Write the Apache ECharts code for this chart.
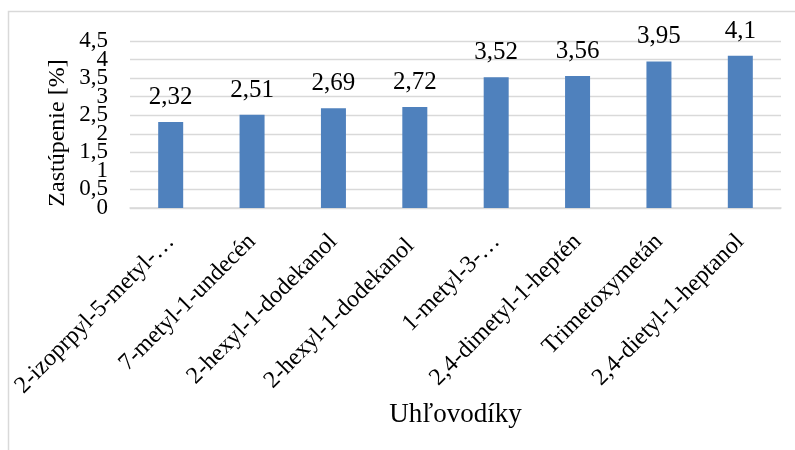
<!DOCTYPE html>
<html>
<head>
<meta charset="utf-8">
<script src="https://cdn.jsdelivr.net/npm/echarts@6/dist/echarts.min.js"></script>
<style>
  html, body { margin: 0; padding: 0; background: #fff; }
  #chart { width: 795px; height: 450px; }
</style>
</head>
<body>
<div id="chart"></div>
<script>
const categories = [
  '2-izoprpyl-5-metyl-…',
  '7-metyl-1-undecén',
  '2-hexyl-1-dodekanol',
  '2-hexyl-1-dodekanol ',
  '1-metyl-3-…',
  '2,4-dimetyl-1-heptén',
  'Trimetoxymetán',
  '2,4-dietyl-1-heptanol'
];
const values = [2.32, 2.51, 2.69, 2.72, 3.52, 3.56, 3.95, 4.1];
const yMin = 0, yMax = 4.5, yStep = 0.5;
const yTitle = 'Zastúpenie [%]';
const xTitle = 'Uhľovodíky';

const font = '"Liberation Serif", "Times New Roman", serif';
const comma = v => String(v).replace('.', ',');

// tick labels are packed tighter than their font size, so echarts drops the
// neighbours of min/max; a second, label-only axis puts those two back
const yLabel = {
  margin: 22,
  fontFamily: font,
  fontSize: 23,
  color: '#000'
};
const nearEnds = v => Math.abs(v - (yMin + yStep)) < 1e-6 || Math.abs(v - (yMax - yStep)) < 1e-6;

let myChart = echarts.init(document.getElementById('chart'));
let option = {
  animation: false,
  textStyle: { fontFamily: font },
  grid: { left: 130, right: 14, top: 41, bottom: 242 },
  graphic: [{
    type: 'rect',
    shape: { x: 8.5, y: 11.5, width: 800, height: 460 },
    style: { fill: 'none', stroke: '#d9d9d9', lineWidth: 1.5 },
    silent: true,
    z: -1
  }, {
    type: 'text',
    x: 58,
    y: 133,
    rotation: Math.PI / 2,
    style: {
      text: yTitle,
      fontSize: 24,
      fontFamily: font,
      fill: '#000',
      align: 'center',
      verticalAlign: 'middle'
    },
    silent: true
  }],
  xAxis: {
    type: 'category',
    data: categories,
    name: xTitle,
    nameLocation: 'middle',
    nameGap: 178,
    nameTextStyle: { fontFamily: font, fontSize: 27, color: '#000' },
    axisLine: { lineStyle: { color: '#d9d9d9', width: 1.5 } },
    axisTick: { show: false },
    axisLabel: {
      interval: 0,
      rotate: 45,
      margin: 30,
      fontFamily: font,
      fontSize: 24,
      color: '#000'
    }
  },
  yAxis: [{
    type: 'value',
    min: yMin,
    max: yMax,
    interval: yStep,
    axisLine: { show: false },
    axisTick: { show: false },
    splitLine: { lineStyle: { color: '#d9d9d9', width: 1.3 } },
    axisLabel: Object.assign({}, yLabel, {
      showMinLabel: true,
      showMaxLabel: true,
      formatter: v => comma(v)
    })
  }, {
    type: 'value',
    position: 'left',
    min: yMin,
    max: yMax,
    interval: yStep,
    axisLine: { show: false },
    axisTick: { show: false },
    splitLine: { show: false },
    axisLabel: Object.assign({}, yLabel, {
      showMinLabel: false,
      showMaxLabel: false,
      formatter: v => nearEnds(v) ? comma(v) : ''
    })
  }],
  series: [{
    type: 'bar',
    data: values,
    barWidth: 25,
    itemStyle: { color: '#4F81BD' },
    label: {
      show: true,
      position: 'top',
      distance: 12,
      fontFamily: font,
      fontSize: 25,
      color: '#000',
      formatter: p => comma(p.value)
    }
  }]
};
myChart.setOption(option);
</script>
</body>
</html>
